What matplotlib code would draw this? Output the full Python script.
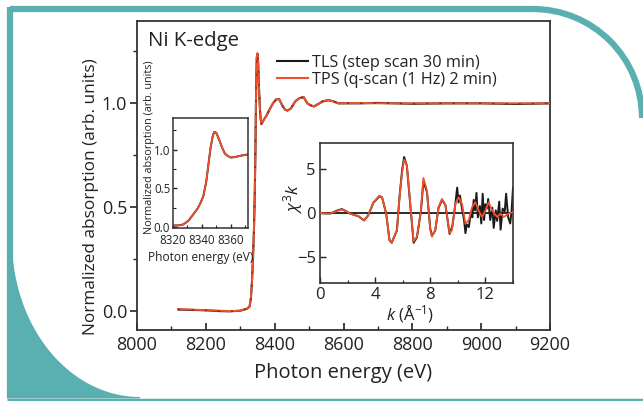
import matplotlib
matplotlib.use("Agg")
import matplotlib.pyplot as plt
from matplotlib.patches import Polygon, Arc
from matplotlib.ticker import MultipleLocator
from matplotlib.lines import Line2D
import numpy as np

plt.rcParams['font.family'] = ['Open Sans', 'DejaVu Sans']
plt.rcParams['mathtext.fontset'] = 'custom'
plt.rcParams['mathtext.rm'] = 'Open Sans'
plt.rcParams['mathtext.it'] = 'Open Sans:italic'

# ---------------- data ----------------
# main XANES/EXAFS spectrum (normalized absorption vs photon energy)
main_E = [8120, 8150, 8180, 8210, 8240, 8270, 8300, 8320, 8327, 8331, 8334, 8337,
          8340, 8342, 8344, 8346, 8348, 8350, 8352, 8355, 8358, 8361, 8365, 8370,
          8376, 8385, 8395, 8405, 8413, 8422, 8430, 8437, 8447, 8460, 8472, 8484,
          8495, 8505, 8514, 8525, 8540, 8556, 8570, 8585, 8600, 8650, 8700, 8800,
          8900, 9000, 9100, 9200]
main_tps = [0.008, 0.006, 0.004, 0.002, 0.0, -0.002, 0.0, 0.01, 0.02, 0.06, 0.14, 0.25,
            0.40, 0.55, 0.76, 1.05, 1.22, 1.24, 1.20, 1.05, 0.95, 0.90, 0.91, 0.925,
            0.94, 0.97, 1.00, 1.02, 1.02, 0.99, 0.97, 0.965, 0.975, 1.01, 1.025, 1.03,
            1.00, 0.99, 0.985, 0.995, 1.01, 1.015, 1.01, 1.0, 1.0, 1.002, 1.0, 1.0,
            1.0, 1.0, 1.0, 1.0]
main_tls = [0.006, 0.004, 0.003, 0.001, -0.002, -0.003, 0.0, 0.01, 0.02, 0.06, 0.14, 0.25,
            0.40, 0.55, 0.76, 1.05, 1.22, 1.24, 1.20, 1.05, 0.95, 0.90, 0.91, 0.925,
            0.94, 0.97, 1.00, 1.02, 1.02, 0.99, 0.97, 0.965, 0.975, 1.01, 1.025, 1.03,
            1.00, 0.99, 0.985, 0.995, 1.01, 1.015, 1.01, 1.0, 1.0, 1.0, 1.002, 0.998,
            1.0, 1.0, 0.997, 1.0]

# XANES inset (edge region)
ins_E = [8320, 8324, 8327, 8329, 8331, 8333, 8335, 8337, 8339, 8341, 8343, 8344.5,
         8346, 8347.5, 8348.5, 8350, 8352, 8354, 8356, 8358, 8360, 8363, 8366, 8369, 8372]
ins_mu = [0.02, 0.025, 0.035, 0.06, 0.09, 0.14, 0.19, 0.24, 0.31, 0.40, 0.58, 0.80,
          1.02, 1.17, 1.23, 1.22, 1.13, 1.03, 0.95, 0.92, 0.90, 0.905, 0.92, 0.93, 0.94]

# EXAFS inset (k^3 chi vs k)
k_tps = [0, 0.73, 1.2, 1.58, 1.9, 2.18, 2.79, 3.2, 3.5, 3.88, 4.31, 4.5, 4.8, 5.04,
         5.2, 5.58, 5.77, 5.95, 6.1, 6.3, 6.55, 6.79, 7.03, 7.32, 7.5, 7.76, 8.0, 8.12,
         8.36, 8.6, 8.85, 9.1, 9.4, 9.57, 9.82, 10.06, 10.3, 10.55, 10.79, 11.03, 11.27,
         11.5, 11.76, 12.0, 12.24, 12.48, 12.85, 13.1, 13.33, 13.7, 14.0]
chi_tps = [0, -0.07, 0.2, 0.41, 0.2, -0.07, -0.37, -0.82, -0.26, 1.24, 1.98, 1.8, -0.07,
           -3.07, -3.37, -1.95, 1.8, 4.5, 6.1, 5.5, 1.05, -3.26, -2.7, 0.3, 4.0, 2.55,
           -1.95, -2.7, -1.95, 0.67, 1.6, 0.86, -2.3, -1.95, 1.05, 1.8, 1.05, -1.2, -0.82,
           0.67, 1.24, 0.3, -0.45, 0.3, 1.24, 0.3, -0.45, -0.07, -0.45, -0.07, 0.1]
k_tls = [0, 0.73, 1.2, 1.58, 1.9, 2.18, 2.79, 3.2, 3.5, 3.88, 4.31, 4.5, 4.8, 5.04,
         5.2, 5.58, 5.77, 5.95, 6.1, 6.3, 6.55, 6.79, 7.03, 7.32, 7.5, 7.76, 8.0, 8.12,
         8.36, 8.6, 8.85, 9.1, 9.4, 9.6, 9.8, 9.95, 10.05, 10.15, 10.3, 10.45, 10.55,
         10.65, 10.8, 10.95, 11.05, 11.15, 11.25, 11.35, 11.45, 11.6, 11.7, 11.8, 11.9,
         12.0, 12.1, 12.2, 12.35, 12.5, 12.6, 12.75, 12.85, 13.0, 13.1, 13.25, 13.4,
         13.5, 13.65, 13.8, 13.9, 14.0]
chi_tls = [0, -0.07, 0.25, 0.45, 0.2, -0.07, -0.37, -0.85, -0.26, 1.2, 1.9, 1.8, -0.07,
           -3.1, -3.4, -2.0, 1.9, 4.8, 6.4, 5.4, 0.9, -3.4, -2.8, 0.2, 3.6, 2.4,
           -1.8, -2.6, -2.0, 0.6, 1.5, 0.9, -2.4, -1.5, 0.8, 2.9, 1.2, 2.0, 0.5, -0.8,
           -2.3, -1.3, -1.6, 0.2, -0.5, 1.5, 0.3, 2.3, -0.5, 0.8, -1.2, 2.2, -0.8,
           1.0, 0.5, 1.6, -0.8, 0.6, -1.7, 0.3, -0.9, 1.3, -1.9, 0.5, 0.2,
           2.2, -0.5, -1.2, 0.3, 2.9]

xticks_main = [8000, 8200, 8400, 8600, 8800, 9000, 9200]
yticks_main = [0.0, 0.5, 1.0]

legend_labels = ['TLS (step scan 30 min)', 'TPS (q-scan (1 Hz) 2 min)']

RED = '#f2502c'
BLACK = '#1a1a1a'
TEAL = '#5aafb1'
TXT = '#222222'

W, H = 643, 401
fig = plt.figure(figsize=(W / 100, H / 100), dpi=100)
fig.patch.set_facecolor('white')

# ---------------- decorative frame ----------------
bg = fig.add_axes([0, 0, 1, 1], zorder=-5)
bg.set_xlim(0, W)
bg.set_ylim(H, 0)
bg.axis('off')
bg.plot([9.5, 533], [9, 9], color=TEAL, lw=4.5, solid_capstyle='butt')
bg.plot([9.5, 9.5], [6.5, 398], color=TEAL, lw=4.5, solid_capstyle='butt')
bg.add_patch(Arc((533, 118), 218, 218, theta1=270, theta2=360, color=TEAL, lw=4.5))
bg.plot([7, W], [399.5, 399.5], color=TEAL, lw=2.5, solid_capstyle='butt')
t = np.linspace(np.pi, np.pi / 2, 60)
cx, cy, a, b = 140, 240, 128, 157
ex = cx + a * np.cos(t)
ey = cy + b * np.sin(t)
pts = [(7, 240)] + list(zip(ex, ey)) + [(140, 398.5), (7, 398.5)]
bg.add_patch(Polygon(pts, closed=True, facecolor=TEAL, edgecolor='none'))

# ---------------- main axes ----------------
ax = fig.add_axes([137 / W, 1 - 330 / H, 413 / W, 309 / H])
ax.plot(main_E, main_tls, color=BLACK, lw=1.5, zorder=2)
ax.plot(main_E, main_tps, color=RED, lw=1.4, zorder=3)
ax.plot(main_E, main_tls, color=BLACK, lw=1.0, ls=(0, (1.5, 8)), zorder=4, alpha=0.6)
ax.set_xlim(8000, 9200)
ax.set_ylim(-0.093, 1.397)
ax.set_xticks(xticks_main)
ax.set_yticks(yticks_main)
ax.set_yticklabels([f'{v:.1f}' for v in yticks_main])
ax.xaxis.set_minor_locator(MultipleLocator(100))
ax.yaxis.set_minor_locator(MultipleLocator(0.25))
ax.tick_params(axis='x', which='major', direction='in', length=5, width=1.2,
               labelsize=13, colors=TXT, pad=4)
ax.tick_params(axis='x', which='minor', direction='in', length=3, width=1.0, colors=TXT)
ax.tick_params(axis='y', which='major', direction='out', length=5, width=1.2,
               labelsize=13, colors=TXT, pad=2)
ax.tick_params(axis='y', which='minor', direction='out', length=3, width=1.0, colors=TXT)
for s in ax.spines.values():
    s.set_linewidth(1.3)
    s.set_color('#333333')
ax.set_xlabel('Photon energy (eV)', fontsize=14.5, color=TXT)
ax.xaxis.set_label_coords(0.5, -(363 - 330) / 309)
ax.set_ylabel('Normalized absorption (arb. units)', fontsize=12.4, color=TXT)
ax.yaxis.set_label_coords(-(137 - 99) / 413, (330 - 197) / 309)
ax.text(11 / 413, 1 - (41 - 21) / 309, 'Ni K-edge', transform=ax.transAxes,
        fontsize=14.7, color=TXT, ha='left', va='center')
handles = [Line2D([], [], color=BLACK, lw=1.5), Line2D([], [], color=RED, lw=1.5)]
ax.legend(handles, legend_labels, loc='upper left', frameon=False,
          bbox_to_anchor=(277 / W, 1 - 55 / H), bbox_transform=fig.transFigure,
          fontsize=11.7, handlelength=1.9, handletextpad=0.25, labelspacing=0.06,
          borderpad=0, borderaxespad=0, labelcolor=TXT)

# ---------------- inset 1: XANES edge ----------------
a1 = fig.add_axes([173 / W, 1 - 228 / H, 75 / W, 110 / H])
a1.plot(ins_E, ins_mu, color=BLACK, lw=1.4)
a1.plot(ins_E, ins_mu, color=RED, lw=1.2)
a1.set_xlim(8320, 8372)
a1.set_ylim(-0.01, 1.41)
a1.set_xticks([8320, 8340, 8360])
a1.set_yticks([0.0, 0.5, 1.0])
a1.set_yticklabels(['0.0', '0.5', '1.0'])
a1.xaxis.set_minor_locator(MultipleLocator(10))
a1.yaxis.set_minor_locator(MultipleLocator(0.25))
a1.tick_params(which='major', direction='in', length=3, width=1.0, labelsize=8.3,
               colors=TXT, pad=2)
a1.tick_params(axis='x', which='major', pad=4.5)
a1.tick_params(which='minor', direction='in', length=2, width=0.8, colors=TXT)
for s in a1.spines.values():
    s.set_linewidth(1.1)
    s.set_color('#333333')
a1.set_xlabel('Photon energy (eV)', fontsize=8.6, color=TXT)
a1.xaxis.set_label_coords((201 - 173) / 75, -(251 - 228) / 110)
a1.set_ylabel('Normalized absorption (arb. units)', fontsize=7.8, color=TXT)
a1.yaxis.set_label_coords(-(173 - 155) / 75, (228 - 147) / 110)

# ---------------- inset 2: EXAFS ----------------
a2 = fig.add_axes([320 / W, 1 - 283 / H, 193 / W, 140 / H])
a2.axhline(0, color=BLACK, lw=1.3, zorder=1)
a2.plot(k_tls, chi_tls, color=BLACK, lw=1.4, zorder=2)
a2.plot(k_tps, chi_tps, color=RED, lw=1.3, zorder=3)
a2.set_xlim(0, 14)
a2.set_ylim(-8, 8)
a2.set_xticks([0, 4, 8, 12])
a2.set_yticks([-5, 0, 5])
a2.xaxis.set_minor_locator(MultipleLocator(2))
a2.tick_params(which='major', direction='in', length=4, width=1.0, labelsize=12,
               colors=TXT, pad=3)
a2.tick_params(which='minor', direction='in', length=2.5, width=0.8, colors=TXT)
for s in a2.spines.values():
    s.set_linewidth(1.2)
    s.set_color('#333333')
a2.set_xlabel(r'$k$ (Å$^{-1}$)', fontsize=12, color=TXT)
a2.xaxis.set_label_coords((410 - 320) / 193, -(303 - 283) / 140)
a2.set_ylabel(r'$\chi^3k$', fontsize=12.5, color=TXT)
a2.yaxis.set_label_coords(-(320 - 305) / 193, (283 - 198) / 140)

fig.savefig('out.png', dpi=100)
